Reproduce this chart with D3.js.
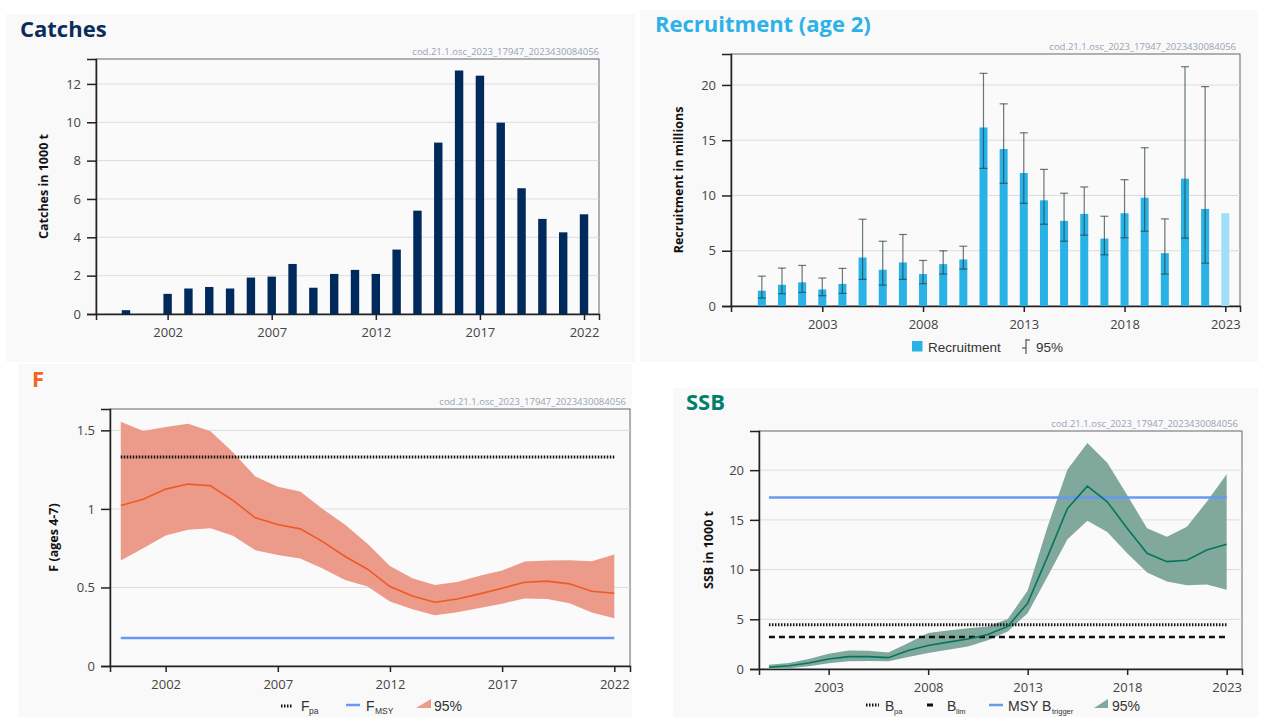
<!DOCTYPE html>
<html>
<head>
<meta charset="utf-8">
<script src="https://cdn.jsdelivr.net/npm/d3@7"></script>
<style>
  html, body { margin: 0; padding: 0; background: #ffffff; }
  svg { display: block; }
</style>
</head>
<body>
<svg id="chart" width="1261" height="717"></svg>
<script>
// ---------------- DATA ----------------
const watermark = "cod.21.1.osc_2023_17947_2023430084056";

// Catches (1000 t)
const catchYears = d3.range(2000, 2023);
const catches = [0.2, 0, 1.05, 1.33, 1.41, 1.33, 1.9, 1.95, 2.61, 1.37, 2.09, 2.3, 2.09, 3.36, 5.39, 8.94, 12.7, 12.43, 9.98, 6.56, 4.96, 4.26, 5.2];
const catchYTicks = [0, 2, 4, 6, 8, 10, 12];
const catchXTicks = [2002, 2007, 2012, 2017, 2022];

// Recruitment (age 2), millions
const recruitYears = d3.range(2000, 2024);
const recruit =     [1.38, 1.92, 2.14, 1.5, 2.0, 4.39, 3.28, 3.94, 2.89, 3.79, 4.21, 16.15, 14.2, 12.03, 9.56, 7.7, 8.33, 6.1, 8.39, 9.8, 4.78, 11.52, 8.78, 8.4];
const recruitLow =  [0.72, 1.11, 1.23, 0.93, 1.14, 2.41, 1.89, 2.41, 2.02, 2.89, 3.34, 12.45, 11.1, 9.29, 7.4, 5.86, 6.41, 4.63, 6.17, 6.77, 2.89, 6.14, 3.88, null];
const recruitHigh = [2.7, 3.43, 3.67, 2.53, 3.4, 7.85, 5.86, 6.47, 4.12, 4.99, 5.41, 21.05, 18.29, 15.67, 12.36, 10.2, 10.77, 8.12, 11.43, 14.32, 7.88, 21.65, 19.85, null];
const recruitYTicks = [0, 5, 10, 15, 20];
const recruitXTicks = [2003, 2008, 2013, 2018, 2023];

// Fishing mortality F (ages 4-7)
const fYears = d3.range(2000, 2023);
const fValue = [1.022, 1.062, 1.126, 1.158, 1.147, 1.054, 0.943, 0.901, 0.873, 0.792, 0.697, 0.616, 0.506, 0.446, 0.406, 0.427, 0.459, 0.495, 0.533, 0.54, 0.523, 0.476, 0.463];
const fLow =   [0.671, 0.75, 0.831, 0.867, 0.877, 0.829, 0.737, 0.707, 0.684, 0.62, 0.548, 0.506, 0.41, 0.361, 0.323, 0.342, 0.37, 0.397, 0.429, 0.427, 0.399, 0.34, 0.304];
const fHigh =  [1.555, 1.496, 1.521, 1.542, 1.494, 1.36, 1.207, 1.141, 1.111, 0.999, 0.899, 0.778, 0.637, 0.559, 0.516, 0.535, 0.574, 0.608, 0.665, 0.671, 0.673, 0.667, 0.71];
const Fpa = 1.33;
const Fmsy = 0.178;
const fYTicks = [0, 0.5, 1, 1.5];
const fXTicks = [2002, 2007, 2012, 2017, 2022];

// SSB (1000 t)
const ssbYears = d3.range(2000, 2024);
const ssb =     [0.17, 0.33, 0.6, 1.0, 1.24, 1.24, 1.14, 1.87, 2.37, 2.7, 3.01, 3.48, 4.28, 6.62, 11.3, 16.15, 18.39, 16.82, 14.15, 11.64, 10.8, 10.94, 11.97, 12.54];
const ssbLow =  [0.0, 0.07, 0.27, 0.57, 0.77, 0.8, 0.77, 1.2, 1.6, 1.94, 2.27, 2.88, 3.78, 5.62, 9.3, 13.04, 14.92, 13.78, 11.64, 9.7, 8.8, 8.43, 8.49, 7.96];
const ssbHigh = [0.43, 0.6, 1.0, 1.54, 1.87, 1.84, 1.67, 2.61, 3.61, 3.88, 4.11, 4.28, 5.02, 7.89, 14.31, 20.07, 22.74, 20.74, 17.49, 14.15, 13.31, 14.31, 16.82, 19.6];
const Bpa = 4.45;
const Blim = 3.21;
const MSYBtrigger = 17.26;
const ssbYTicks = [0, 5, 10, 15, 20];
const ssbXTicks = [2003, 2008, 2013, 2018, 2023];

// ---------------- DRAWING ----------------
const svg = d3.select("#chart");
const TICKFONT = "'Open Sans', 'DejaVu Sans', sans-serif";
const LEGFONT = "'Liberation Sans', Arial, sans-serif";

function panel(cfg) {
  const g = svg.append("g");
  // background
  g.append("rect").attr("x", cfg.bg[0]).attr("y", cfg.bg[1]).attr("width", cfg.bg[2]).attr("height", cfg.bg[3]).attr("fill", "#f9f9f9");
  // title
  g.append("text").attr("x", cfg.titleX).attr("y", cfg.titleY)
    .attr("font-family", TICKFONT).attr("font-weight", 700).attr("font-size", 22)
    .attr("fill", cfg.titleColor).text(cfg.title);
  const f = cfg.frame;
  const x = d3.scaleLinear().domain(cfg.xDomain).range([f.l, f.r]);
  const y = d3.scaleLinear().domain(cfg.yDomain).range([f.b, f.t]);
  // plot bg
  g.append("rect").attr("x", f.l).attr("y", f.t).attr("width", f.r - f.l).attr("height", f.b - f.t)
    .attr("fill", "#fafafa").attr("stroke", "#666").attr("stroke-width", 1);
  // gridlines
  g.selectAll(".grid").data(cfg.yTicks.filter(d => d !== 0)).enter().append("line")
    .attr("x1", f.l).attr("x2", f.r).attr("y1", d => y(d)).attr("y2", d => y(d))
    .attr("stroke", "#dcdcdc").attr("stroke-width", 1);
  // axes via d3
  const yAxis = d3.axisLeft(y).tickValues(cfg.yTicks).tickSize(9).tickPadding(6).tickFormat(d3.format("~g"));
  const ya = g.append("g").attr("transform", `translate(${f.l},0)`).call(yAxis);
  ya.select(".domain").attr("stroke", "#222").attr("stroke-width", 1.5);
  ya.selectAll(".tick line").attr("stroke", "#222").attr("stroke-width", 1.5);
  ya.selectAll(".tick text").attr("font-family", TICKFONT).attr("font-size", 13).attr("fill", "#444");
  const xAxis = d3.axisBottom(x).tickValues(cfg.xTicks).tickSize(6).tickPadding(8).tickFormat(d3.format("d"));
  const xa = g.append("g").attr("transform", `translate(0,${f.b})`).call(xAxis);
  xa.select(".domain").attr("stroke", "#222").attr("stroke-width", 1.5);
  xa.selectAll(".tick line").attr("stroke", "#222").attr("stroke-width", 1.5);
  xa.selectAll(".tick text").attr("font-family", TICKFONT).attr("font-size", 13).attr("fill", "#444");
  // y label
  g.append("text").attr("transform", `translate(${cfg.yLabelX},${(f.t + f.b) / 2 + cfg.yLabelDy}) rotate(-90)`)
    .attr("text-anchor", "middle").attr("font-family", TICKFONT).attr("font-weight", 700).attr("font-size", 12.5)
    .attr("fill", "#111").text(cfg.yLabel);
  // watermark
  g.append("text").attr("x", cfg.wmX).attr("y", cfg.wmY).attr("text-anchor", "end")
    .attr("font-family", TICKFONT).attr("font-size", 9.5).attr("fill", "#97a3b6").text(watermark);
  return { g, x, y, f };
}

// ---------- Panel 1: Catches ----------
{
  const p = panel({
    bg: [6, 14, 629, 348], title: "Catches", titleX: 20, titleY: 37, titleColor: "#0c2d5c",
    frame: { l: 96, t: 59, r: 599, b: 314 }, xDomain: [1998.56, 2022.72], yDomain: [0, 13.3],
    yTicks: catchYTicks, xTicks: catchXTicks, yLabel: "Catches in 1000 t", yLabelX: 48, yLabelDy: 0,
    wmX: 599, wmY: 55
  });
  p.g.selectAll(".bar").data(catchYears.map((yr, i) => ({ yr, v: catches[i] })).filter(d => d.v > 0))
    .enter().append("rect")
    .attr("x", d => p.x(d.yr) - 4.2).attr("width", 8.4)
    .attr("y", d => p.y(d.v)).attr("height", d => p.y(0) - p.y(d.v))
    .attr("fill", "#002a5c");
}

// ---------- Panel 2: Recruitment ----------
{
  const p = panel({
    bg: [640, 10, 618, 352], title: "Recruitment (age 2)", titleX: 655, titleY: 32, titleColor: "#2cb2e8",
    frame: { l: 731, t: 54, r: 1240, b: 306 }, xDomain: [1998.47, 2023.73], yDomain: [0, 22.8],
    yTicks: recruitYTicks, xTicks: recruitXTicks, yLabel: "Recruitment in millions", yLabelX: 683, yLabelDy: 0,
    wmX: 1236, wmY: 50
  });
  const data = recruitYears.map((yr, i) => ({ yr, v: recruit[i], lo: recruitLow[i], hi: recruitHigh[i] }));
  p.g.selectAll(".bar").data(data).enter().append("rect")
    .attr("x", d => p.x(d.yr) - 4).attr("width", 8)
    .attr("y", d => p.y(d.v)).attr("height", d => p.y(0) - p.y(d.v))
    .attr("fill", d => d.lo === null ? "#9fdff9" : "#29b2e6");
  const eb = p.g.selectAll(".eb").data(data.filter(d => d.lo !== null)).enter().append("g")
    .attr("stroke", "#2a3f43").attr("stroke-opacity", 0.7).attr("stroke-width", 1.2);
  eb.append("line").attr("x1", d => p.x(d.yr)).attr("x2", d => p.x(d.yr)).attr("y1", d => p.y(d.lo)).attr("y2", d => p.y(d.hi));
  eb.append("line").attr("x1", d => p.x(d.yr) - 4).attr("x2", d => p.x(d.yr) + 4).attr("y1", d => p.y(d.lo)).attr("y2", d => p.y(d.lo));
  eb.append("line").attr("x1", d => p.x(d.yr) - 4).attr("x2", d => p.x(d.yr) + 4).attr("y1", d => p.y(d.hi)).attr("y2", d => p.y(d.hi));
  // legend
  const lg = p.g.append("g");
  lg.append("rect").attr("x", 912).attr("y", 341).attr("width", 10.5).attr("height", 10.5).attr("fill", "#29b2e6");
  lg.append("text").attr("x", 928).attr("y", 351.5).attr("font-family", LEGFONT).attr("font-size", 13.5).attr("fill", "#333").text("Recruitment");
  lg.append("line").attr("x1", 1026).attr("x2", 1026).attr("y1", 339).attr("y2", 354).attr("stroke", "#555").attr("stroke-width", 1.2);
  lg.append("line").attr("x1", 1026).attr("x2", 1030).attr("y1", 340).attr("y2", 340).attr("stroke", "#555").attr("stroke-width", 1.2);
  lg.append("line").attr("x1", 1022).attr("x2", 1026).attr("y1", 348).attr("y2", 348).attr("stroke", "#555").attr("stroke-width", 1.2);
  lg.append("text").attr("x", 1036).attr("y", 351.5).attr("font-family", LEGFONT).attr("font-size", 13.5).attr("fill", "#333").text("95%");
}

// ---------- Panel 3: F ----------
{
  const p = panel({
    bg: [18, 364, 614, 353], title: "F", titleX: 32, titleY: 387, titleColor: "#f26522",
    frame: { l: 110, t: 409, r: 630, b: 666 }, xDomain: [1999.52, 2022.7], yDomain: [0, 1.636],
    yTicks: fYTicks, xTicks: fXTicks, yLabel: "F (ages 4-7)", yLabelX: 58, yLabelDy: 0,
    wmX: 626, wmY: 405
  });
  const data = fYears.map((yr, i) => ({ yr, v: fValue[i], lo: fLow[i], hi: fHigh[i] }));
  p.g.append("path").datum(data)
    .attr("d", d3.area().x(d => p.x(d.yr)).y0(d => p.y(d.lo)).y1(d => p.y(d.hi)))
    .attr("fill", "#ec9a89");
  const x0 = p.x(fYears[0]), x1 = p.x(fYears[fYears.length - 1]);
  p.g.append("line").attr("x1", x0).attr("x2", x1).attr("y1", p.y(Fpa)).attr("y2", p.y(Fpa))
    .attr("stroke", "#111").attr("stroke-width", 3).attr("stroke-dasharray", "1.5,1.5");
  p.g.append("line").attr("x1", x0).attr("x2", x1).attr("y1", p.y(Fmsy)).attr("y2", p.y(Fmsy))
    .attr("stroke", "#6799f2").attr("stroke-width", 2.5);
  p.g.append("path").datum(data)
    .attr("d", d3.line().x(d => p.x(d.yr)).y(d => p.y(d.v)))
    .attr("fill", "none").attr("stroke", "#ee5a24").attr("stroke-width", 1.6);
  // legend
  const lg = p.g.append("g").attr("font-family", LEGFONT).attr("fill", "#333");
  lg.append("line").attr("x1", 281).attr("x2", 292).attr("y1", 706).attr("y2", 706).attr("stroke", "#111").attr("stroke-width", 3).attr("stroke-dasharray", "1.5,1.5");
  lg.append("text").attr("x", 301).attr("y", 711).attr("font-size", 14).text("F");
  lg.append("text").attr("x", 309).attr("y", 714).attr("font-size", 8.5).text("pa");
  lg.append("line").attr("x1", 346).attr("x2", 360).attr("y1", 705).attr("y2", 705).attr("stroke", "#6799f2").attr("stroke-width", 2.5);
  lg.append("text").attr("x", 366).attr("y", 711).attr("font-size", 14).text("F");
  lg.append("text").attr("x", 375).attr("y", 714).attr("font-size", 8.5).text("MSY");
  lg.append("path").attr("d", "M416,708 L431,699 L431,708 Z").attr("fill", "#ec9a89");
  lg.append("text").attr("x", 434).attr("y", 711).attr("font-size", 14).text("95%");
}

// ---------- Panel 4: SSB ----------
{
  const p = panel({
    bg: [673, 388, 585, 329], title: "SSB", titleX: 686, titleY: 410, titleColor: "#00806a",
    frame: { l: 759, t: 431, r: 1242, b: 669 }, xDomain: [1999.5, 2023.77], yDomain: [0, 23.94],
    yTicks: ssbYTicks, xTicks: ssbXTicks, yLabel: "SSB in 1000 t", yLabelX: 713, yLabelDy: 0,
    wmX: 1238, wmY: 427
  });
  const data = ssbYears.map((yr, i) => ({ yr, v: ssb[i], lo: ssbLow[i], hi: ssbHigh[i] }));
  p.g.append("path").datum(data)
    .attr("d", d3.area().x(d => p.x(d.yr)).y0(d => p.y(d.lo)).y1(d => p.y(d.hi)))
    .attr("fill", "#80a89b");
  const x0 = p.x(ssbYears[0]), x1 = p.x(ssbYears[ssbYears.length - 1]);
  p.g.append("line").attr("x1", x0).attr("x2", x1).attr("y1", p.y(Bpa)).attr("y2", p.y(Bpa))
    .attr("stroke", "#111").attr("stroke-width", 3).attr("stroke-dasharray", "1.5,1.5");
  p.g.append("line").attr("x1", x0).attr("x2", x1).attr("y1", p.y(Blim)).attr("y2", p.y(Blim))
    .attr("stroke", "#111").attr("stroke-width", 2.5).attr("stroke-dasharray", "6,4");
  p.g.append("line").attr("x1", x0).attr("x2", x1).attr("y1", p.y(MSYBtrigger)).attr("y2", p.y(MSYBtrigger))
    .attr("stroke", "#6799f2").attr("stroke-width", 2.5);
  p.g.append("path").datum(data)
    .attr("d", d3.line().x(d => p.x(d.yr)).y(d => p.y(d.v)))
    .attr("fill", "none").attr("stroke", "#00775f").attr("stroke-width", 1.6);
  // legend
  const lg = p.g.append("g").attr("font-family", LEGFONT).attr("fill", "#333");
  lg.append("line").attr("x1", 866).attr("x2", 879).attr("y1", 705).attr("y2", 705).attr("stroke", "#111").attr("stroke-width", 3).attr("stroke-dasharray", "1.5,1.5");
  lg.append("text").attr("x", 885).attr("y", 711).attr("font-size", 14).text("B");
  lg.append("text").attr("x", 894).attr("y", 714).attr("font-size", 7.5).text("pa");
  lg.append("line").attr("x1", 927).attr("x2", 933).attr("y1", 705).attr("y2", 705).attr("stroke", "#111").attr("stroke-width", 3);
  lg.append("text").attr("x", 947).attr("y", 711).attr("font-size", 14).text("B");
  lg.append("text").attr("x", 956).attr("y", 714).attr("font-size", 7.5).text("lim");
  lg.append("line").attr("x1", 989).attr("x2", 1003).attr("y1", 705).attr("y2", 705).attr("stroke", "#6799f2").attr("stroke-width", 2.5);
  lg.append("text").attr("x", 1008).attr("y", 711).attr("font-size", 14).text("MSY B");
  lg.append("text").attr("x", 1052).attr("y", 714).attr("font-size", 7.5).text("trigger");
  lg.append("path").attr("d", "M1094,708 L1108,699 L1108,708 Z").attr("fill", "#80a89b");
  lg.append("text").attr("x", 1112).attr("y", 711).attr("font-size", 14).text("95%");
}
</script>
</body>
</html>
